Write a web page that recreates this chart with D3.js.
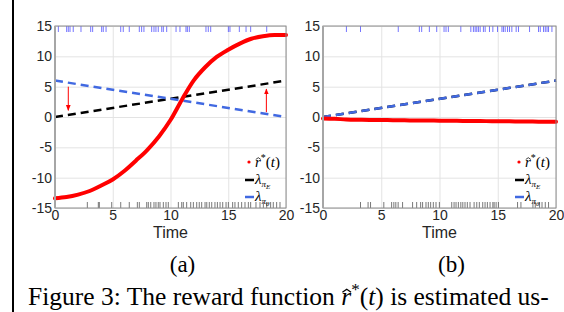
<!DOCTYPE html>
<html>
<head>
<meta charset="utf-8">
<script src="https://cdn.jsdelivr.net/npm/d3@7"></script>
<style>
  body { margin: 0; background: #fff; }
  svg { display: block; }
  .tick text { font-family: "Liberation Sans", Arial, sans-serif; font-size: 14px; fill: #262626; }
  .grid line { stroke: #e3e3e3; }
  .grid path { display: none; }
</style>
</head>
<body>
<div id="chart"></div>
<script>
// data
var timeTicks = [0, 5, 10, 15, 20];
var valueTicks = [-15, -10, -5, 0, 5, 10, 15];
var tGrid = [0, 1, 2, 3, 4, 5, 6, 7, 8, 9, 10, 11, 12, 13, 14, 15, 16, 17, 18, 19, 20];

// panel (a)
var rewardA = [-13.4, -13.2, -12.8, -12.2, -11.3, -10.3, -8.9, -7.2, -5.4, -3.2, -0.5,
               2.9, 6.0, 8.2, 9.9, 11.1, 12.1, 12.9, 13.3, 13.5, 13.5];
var expertA = [[0, 0], [20, 6]];
var learnerA = [[0, 6], [20, 0]];
var arrowsA = [[[1.15, 5.0], [1.15, 1.1]], [[18.3, 0.8], [18.3, 4.6]]];
var rugTopA = [0.29, 1.01, 1.15, 1.30, 1.58, 2.25, 3.09, 3.26, 4.04, 4.18, 4.42, 5.69, 5.91, 6.43,
               7.30, 7.50, 7.70, 8.37, 8.57, 8.74, 8.94, 9.24, 9.38, 9.67, 10.48, 10.82, 11.34,
               11.46, 11.63, 13.07, 13.27, 13.48, 15.01, 15.15, 15.96, 16.54, 16.94, 18.33];
var rugBottomA = [2.80, 3.75, 3.84, 4.91, 5.69, 6.43, 7.13, 7.30, 7.94, 8.08, 8.29, 8.57, 8.74,
                  8.94, 9.09, 9.38, 9.61, 9.81, 10.68, 10.97, 11.11, 11.40, 11.75, 11.98, 12.27,
                  12.49, 12.70, 12.99, 13.14, 13.36, 13.57, 13.85, 14.06, 14.29, 14.52, 14.81,
                  15.01, 15.38, 15.58, 15.87, 16.16, 16.45, 16.74, 16.94, 17.40, 17.75, 18.04,
                  18.33, 18.67, 18.90, 19.19, 19.48];

// panel (b)
var rewardB = [-0.25, -0.3, -0.4, -0.45, -0.48, -0.5, -0.52, -0.55, -0.57, -0.58, -0.6,
               -0.62, -0.64, -0.66, -0.68, -0.7, -0.72, -0.74, -0.76, -0.78, -0.8];
var expertB = [[0, 0], [20, 6]];
var learnerB = [[0, 0], [20, 6]];
var rugTopB = [2.01, 3.22, 6.46, 8.27, 8.47, 9.13, 9.76, 10.39, 10.56, 10.76, 11.83, 12.69, 12.91,
               13.06, 13.20, 13.34, 13.49, 13.77, 13.92, 14.29, 14.58, 14.98, 15.36, 15.49, 15.64,
               15.84, 16.01, 16.21, 16.58, 16.78, 17.73, 18.50, 18.65, 18.93, 19.08, 19.23, 19.36, 19.65];
var rugBottomB = [3.22, 3.87, 4.08, 5.22, 5.89, 6.08, 6.25, 6.45, 6.83, 7.69, 8.04, 8.38, 8.55,
                  8.84, 9.04, 9.24, 9.47, 9.70, 9.99, 11.05, 11.25, 11.42, 11.62, 11.83, 12.00,
                  12.19, 12.39, 12.62, 12.97, 13.20, 13.42, 13.71, 13.91, 14.11, 14.34, 14.58,
                  14.69, 14.86, 15.06, 16.70, 16.99, 18.02, 18.22, 18.59, 18.80, 19.08, 19.36];

var width = 564, height = 312;
var red = "#ff0000", blue = "#4169e1", black = "#000000";

var svg = d3.select("#chart").append("svg")
    .attr("width", width)
    .attr("height", height);

svg.append("defs").append("marker")
    .attr("id", "arrow")
    .attr("viewBox", "0 -5 10 10")
    .attr("refX", 9)
    .attr("refY", 0)
    .attr("markerWidth", 6)
    .attr("markerHeight", 7)
    .attr("markerUnits", "userSpaceOnUse")
    .attr("orient", "auto")
    .append("path")
    .attr("d", "M0,-4L10,0L0,4Z")
    .attr("fill", red);

// page margin line on the left
svg.append("line")
    .attr("x1", 13).attr("x2", 13)
    .attr("y1", 0).attr("y2", height)
    .attr("stroke", "#000").attr("stroke-width", 2);

var plainNumber = function(d) { return String(d); };

// italic r, the hat is drawn afterwards as a small path over it
var hats = [];
var rHat = function(t, size, baseY) {
    var r = t.append("tspan").style("font-style", "italic").text("r");
    hats.push({ node: r.node(), size: size, baseY: baseY });
};
var drawHats = function() {
    hats.forEach(function(h) {
        var b = h.node.getBBox();
        var cx = b.x + b.width * 0.55;
        var yTop = h.baseY - h.size * 0.62;
        var w = h.size * 0.17;
        svg.append("path")
            .attr("d", "M" + (cx - w) + "," + (yTop + w * 0.7) + "L" + cx + "," + yTop + "L" + (cx + w) + "," + (yTop + w * 0.7))
            .attr("fill", "none").attr("stroke", "#000").attr("stroke-width", h.size * 0.05);
    });
};

var drawPanel = function(left, right, reward, expert, learner, rugTop, rugBottom, arrows, label) {
    var top = 26, bottom = 208;
    var xScale = d3.scaleLinear().domain([0, 20]).range([left, right]);
    var yScale = d3.scaleLinear().domain([-15, 15]).range([bottom, top]);
    var g = svg.append("g");

    // grid
    g.append("g").attr("class", "grid")
        .attr("transform", "translate(0," + bottom + ")")
        .call(d3.axisBottom(xScale).tickValues(timeTicks).tickSize(-(bottom - top)).tickFormat(""));
    g.append("g").attr("class", "grid")
        .attr("transform", "translate(" + left + ",0)")
        .call(d3.axisLeft(yScale).tickValues(valueTicks).tickSize(-(right - left)).tickFormat(""));

    // rugs
    g.selectAll(".rugTop").data(rugTop).enter().append("line")
        .attr("x1", function(d) { return xScale(d); })
        .attr("x2", function(d) { return xScale(d); })
        .attr("y1", top).attr("y2", top + 6)
        .attr("stroke", "#3a3aff").attr("stroke-opacity", 0.7);
    g.selectAll(".rugBottom").data(rugBottom).enter().append("line")
        .attr("x1", function(d) { return xScale(d); })
        .attr("x2", function(d) { return xScale(d); })
        .attr("y1", bottom - 6).attr("y2", bottom)
        .attr("stroke", "#404040").attr("stroke-opacity", 0.7);

    var line = d3.line()
        .x(function(d) { return xScale(d[0]); })
        .y(function(d) { return yScale(d[1]); });

    g.append("path").datum(expert)
        .attr("d", line).attr("fill", "none")
        .attr("stroke", black).attr("stroke-width", 2.5).attr("stroke-dasharray", "8,5");
    g.append("path").datum(learner)
        .attr("d", line).attr("fill", "none")
        .attr("stroke", blue).attr("stroke-width", 2.5).attr("stroke-dasharray", "8,5");

    var curve = d3.line()
        .x(function(d, i) { return xScale(tGrid[i]); })
        .y(function(d) { return yScale(d); })
        .curve(d3.curveMonotoneX);
    g.append("path").datum(reward)
        .attr("d", curve).attr("fill", "none")
        .attr("stroke", red).attr("stroke-width", 4).attr("stroke-linecap", "round");

    g.selectAll(".arrow").data(arrows).enter().append("line")
        .attr("x1", function(d) { return xScale(d[0][0]); })
        .attr("y1", function(d) { return yScale(d[0][1]); })
        .attr("x2", function(d) { return xScale(d[1][0]); })
        .attr("y2", function(d) { return yScale(d[1][1]); })
        .attr("stroke", red).attr("stroke-width", 1)
        .attr("marker-end", "url(#arrow)");

    // axes
    var xAxis = g.append("g")
        .attr("transform", "translate(0," + bottom + ")")
        .call(d3.axisBottom(xScale).tickValues(timeTicks).tickSize(0).tickPadding(1).tickFormat(plainNumber));
    var yAxis = g.append("g")
        .attr("transform", "translate(" + left + ",0)")
        .call(d3.axisLeft(yScale).tickValues(valueTicks).tickSize(0).tickPadding(3).tickFormat(plainNumber));
    xAxis.select(".domain").remove();
    yAxis.select(".domain").remove();
    xAxis.selectAll("text").attr("dy", "0.75em");

    g.append("rect")
        .attr("x", left).attr("y", top)
        .attr("width", right - left).attr("height", bottom - top)
        .attr("fill", "none").attr("stroke", "#8c8c8c").attr("stroke-width", 1);
    g.append("line")
        .attr("x1", left).attr("x2", left).attr("y1", top).attr("y2", bottom)
        .attr("stroke", "#a6a6a6").attr("stroke-width", 2);

    g.append("text")
        .attr("x", (left + right) / 2).attr("y", 238)
        .attr("text-anchor", "middle")
        .style("font-family", "'Liberation Sans', Arial, sans-serif")
        .style("font-size", "16px").style("fill", "#262626")
        .text("Time");

    // legend
    var lx = right - 41;
    var leg = g.append("g").style("font-family", "'Liberation Serif', 'DejaVu Serif', serif")
        .style("font-size", "15px");
    leg.append("circle").attr("cx", lx + 4).attr("cy", 162).attr("r", 1.6).attr("fill", red);
    var t1 = leg.append("text").attr("x", lx + 10).attr("y", 167);
    rHat(t1, 15, 167);
    t1.append("tspan").attr("dy", -6).style("font-size", "10px").text("*");
    t1.append("tspan").attr("dy", 6).text("(");
    t1.append("tspan").style("font-style", "italic").text("t");
    t1.append("tspan").text(")");

    var items = [{ y: 180, color: black, sub: "E" }, { y: 197, color: blue, sub: "\u03b8" }];
    items.forEach(function(it) {
        leg.append("line")
            .attr("x1", lx).attr("x2", lx + 9)
            .attr("y1", it.y).attr("y2", it.y)
            .attr("stroke", it.color).attr("stroke-width", 2.5);
        var t = leg.append("text").attr("x", lx + 10).attr("y", it.y + 4);
        t.append("tspan").style("font-style", "italic").text("\u03bb");
        t.append("tspan").attr("dy", 3).style("font-size", "9px").style("font-style", "italic").text("\u03c0");
        t.append("tspan").attr("dy", 2).style("font-size", "7px").style("font-style", "italic").text(it.sub);
    });

    svg.append("text")
        .attr("x", (left + right) / 2 + 12).attr("y", 272)
        .attr("text-anchor", "middle")
        .style("font-family", "'Liberation Serif', 'Times New Roman', serif")
        .style("font-size", "23px").style("fill", "#000")
        .text(label);
};

drawPanel(55, 286, rewardA, expertA, learnerA, rugTopA, rugBottomA, arrowsA, "(a)");
drawPanel(323, 556, rewardB, expertB, learnerB, rugTopB, rugBottomB, [], "(b)");

// caption
var cap = svg.append("text")
    .attr("x", 28).attr("y", 305)
    .style("font-family", "'Liberation Serif', 'Times New Roman', serif")
    .style("font-size", "25.5px").style("fill", "#000");
cap.append("tspan").text("Figure 3: The reward function ");
rHat(cap, 25.5, 305);
cap.append("tspan").attr("dy", -10).style("font-size", "17px").text("*");
cap.append("tspan").attr("dy", 10).text("(");
cap.append("tspan").style("font-style", "italic").text("t");
cap.append("tspan").text(") is estimated us-");

drawHats();
</script>
</body>
</html>
